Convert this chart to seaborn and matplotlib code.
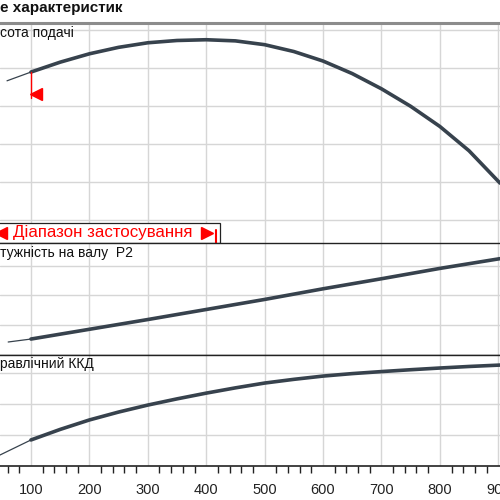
import pandas as pd
import seaborn as sns
import matplotlib.pyplot as plt
from matplotlib.patches import Rectangle
from matplotlib.ticker import MultipleLocator

# %%
# values
q_head = [59, 100, 150, 200, 250, 300, 350, 400, 450, 500, 550, 600, 650, 700, 750, 800, 850, 903]
head = [36.6, 38.9, 41.5, 43.7, 45.4, 46.6, 47.2, 47.4, 47.1, 46.1, 44.3, 41.8, 38.5, 34.5, 29.9, 24.6, 18.2, 9.7]

q_power = [61, 100, 200, 300, 400, 500, 600, 700, 800, 903]
power = [4.2, 5.2, 8.5, 11.8, 15.2, 18.6, 22.2, 25.6, 29.1, 32.4]

q_eff = [47, 100, 150, 200, 250, 300, 350, 400, 450, 500, 550, 600, 650, 700, 750, 800, 850, 903]
eff = [6.8, 16.5, 23.3, 29.4, 34.5, 39.0, 43.0, 46.7, 50.1, 53.2, 55.6, 57.7, 59.3, 60.6, 61.8, 62.9, 63.9, 64.8]

x_ticks = [100, 200, 300, 400, 500, 600, 700, 800, 900]
range_lo = 100
range_hi = 417

title = "е характеристик"
label_head = "сота подачі"
label_power = "тужність на валу  P2"
label_eff = "равлічний ККД"
label_range = "Діапазон застосування"

# %%
sns.set_style("white")
plt.rcParams['font.family'] = ['Liberation Sans', 'DejaVu Sans']

curve_col = '#37424d'
grid_col = '#d6d6d6'
red = '#ff0000'

fig = plt.figure(figsize=(5, 5), dpi=100)
ax_h = fig.add_axes([0, 0.514, 1, 0.44])
ax_p = fig.add_axes([0, 0.29, 1, 0.224])
ax_e = fig.add_axes([0, 0.068, 1, 0.222])


def draw_curve(ax, q, vals):
    df = pd.DataFrame({'Q': q, 'v': vals})
    thin = df[df['Q'] <= range_lo]
    thick = df[df['Q'] >= range_lo]
    sns.lineplot(data=thin, x='Q', y='v', ax=ax, color=curve_col, lw=0.9, sort=True)
    sns.lineplot(data=thick, x='Q', y='v', ax=ax, color=curve_col, lw=2.6, sort=True,
                 solid_joinstyle='round', solid_capstyle='round')


draw_curve(ax_h, q_head, head)
draw_curve(ax_p, q_power, power)
draw_curve(ax_e, q_eff, eff)

ax_h.set_ylim(-6.05, 51.8)
ax_h.set_yticks([0, 10, 20, 30, 40, 50])
ax_p.set_ylim(-0.2, 37.7)
ax_p.set_yticks([10, 20, 30])
ax_e.set_ylim(-0.3, 71.3)
ax_e.set_yticks([20, 40, 60])

for ax in (ax_h, ax_p, ax_e):
    ax.set_xlim(47, 903)
    ax.set_xticks(x_ticks)
    ax.grid(True, color=grid_col, lw=1)
    ax.set_axisbelow(True)
    ax.set_xlabel("")
    ax.set_ylabel("")
    ax.tick_params(axis='y', left=False, labelleft=False)
    ax.spines['left'].set_visible(False)
    ax.spines['right'].set_visible(False)
    ax.spines['top'].set_color('#222222')
    ax.spines['bottom'].set_color('#222222')
    ax.spines['top'].set_linewidth(1)
    ax.spines['bottom'].set_linewidth(1)

for ax in (ax_h, ax_p):
    ax.tick_params(axis='x', bottom=False, labelbottom=False)

ax_h.spines['top'].set_color('#8c8c8c')
ax_h.spines['top'].set_linewidth(2.2)
ax_h.spines['bottom'].set_visible(False)

ax_e.xaxis.set_minor_locator(MultipleLocator(20))
ax_e.tick_params(axis='x', which='major', length=9, width=1, color='#222222',
                 labelsize=10.5, labelcolor='#222222', pad=3)
ax_e.tick_params(axis='x', which='minor', length=5, width=1, color='#222222')
ax_e.tick_params(axis='x', which='minor', bottom=True)
ax_e.spines['bottom'].set_linewidth(1.2)

# panel labels
ax_h.text(0.0, 0.955, label_head, transform=ax_h.transAxes, ha='left', va='center', fontsize=10, color='#111111')
ax_p.text(0.0, 0.91, label_power, transform=ax_p.transAxes, ha='left', va='center', fontsize=10, color='#111111')
ax_e.text(0.0, 0.92, label_eff, transform=ax_e.transAxes, ha='left', va='center', fontsize=10, color='#111111')

# start of the application range on the head curve
ax_h.plot([range_lo, range_lo], [head[1], 32.1], color=red, lw=1, zorder=4)
ax_h.plot([range_lo + 8], [33.2], marker='<', color=red, ms=8, zorder=4)

# application range box
ax_h.add_patch(Rectangle((30, -6.05), range_hi + 7 - 30, 5.26, facecolor='white',
                         edgecolor='#222222', lw=0.9, zorder=5, clip_on=False))
ax_h.text(69, -3.42, label_range, color=red, fontsize=12.2, ha='left', va='center', zorder=6)
ax_h.plot([49], [-3.42], marker='<', color=red, ms=9, zorder=6, clip_on=False)
ax_h.plot([range_hi - 16], [-3.42], marker='>', color=red, ms=9, zorder=6)
ax_h.plot([range_hi, range_hi], [-2.6, -6.05], color=red, lw=1.5, zorder=6)

fig.text(0.0, 0.984, title, ha='left', va='center', fontsize=11, fontweight='bold', color='#111111')

fig.savefig('out.png', dpi=100)
